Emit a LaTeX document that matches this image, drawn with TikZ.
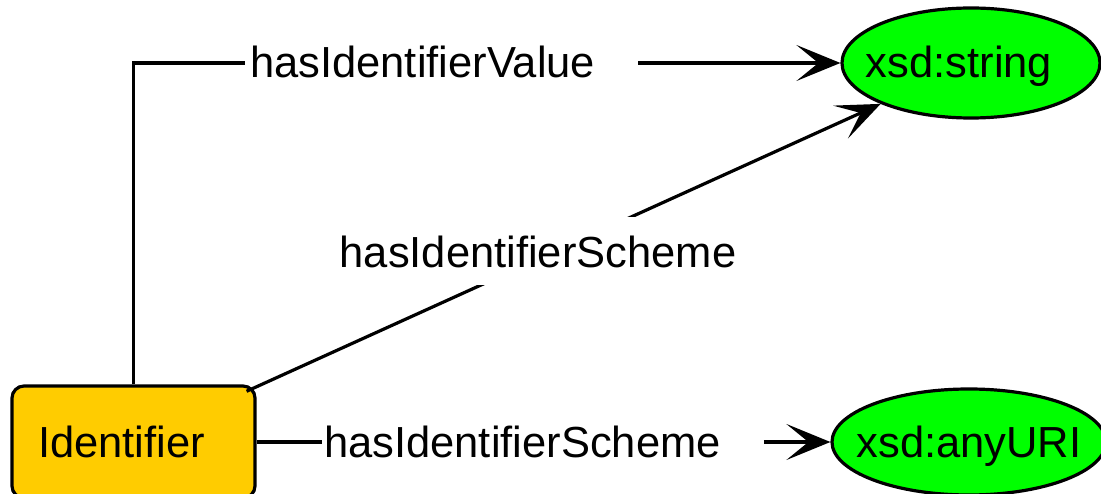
\documentclass[tikz,border=0pt]{standalone}
\usepackage{fontspec}
\setmainfont{Liberation Sans}
\usetikzlibrary{arrows.meta,shapes.geometric}
\definecolor{classfill}{HTML}{FFCC00}
\definecolor{litfill}{HTML}{00FF00}
\begin{document}
\begin{tikzpicture}[x=1pt,y=-1pt,
  every node/.style={font=\fontsize{43.5}{50}\selectfont},
  txt/.style={inner sep=0pt, text height=30pt, text depth=0pt},
  classbox/.style={draw, line width=3.2pt, fill=classfill, rounded corners=12pt,
    minimum width=243pt, minimum height=112pt, inner xsep=26pt, inner ysep=0pt,
    text width=191pt, align=left, text height=30pt, text depth=0pt},
  literal/.style={ellipse, draw, line width=3.2pt, fill=litfill, inner sep=0pt},
  conn/.style={line width=3.2pt},
  arr/.style={conn, -{Stealth[length=44pt,width=36pt,inset=22pt]}},
  cover/.style={fill=white, inner xsep=4pt, inner ysep=4pt,
    text height=47pt, text depth=13pt}]

\useasboundingbox (0,0) rectangle (1101,494);

% class and literal nodes
\node[classbox] (id) at (133.5,442) {Identifier};
\node[literal, minimum width=258pt, minimum height=110pt,
  label={[txt, xshift=-12pt]center:{xsd:string}}] (str) at (971,63) {};
\node[literal, minimum width=274pt, minimum height=106pt,
  label={[txt]center:{xsd:anyURI}}] (uri) at (969,442) {};

% property labels on the straight connectors
\node[txt, anchor=west] (lv) at (250,63) {hasIdentifierValue};
\node[txt, anchor=west] (ls) at (324,442) {hasIdentifierScheme};

% hasIdentifierValue
\draw[conn] (id.north) |- ([xshift=-5pt]lv.west);
\draw[arr] ([xshift=43pt]lv.east) -- (str.west);

% diagonal hasIdentifierScheme, starting at the rounded corner
\draw[arr, shorten <=-11pt] (id) -- (str);
\node[cover, anchor=base] (ld) at (538,268) {hasIdentifierScheme};

% lower hasIdentifierScheme
\draw[conn] (id.east) -- ([xshift=-2pt]ls.west);
\draw[arr] ([xshift=43pt]ls.east) -- (uri.west);
\end{tikzpicture}
\end{document}
